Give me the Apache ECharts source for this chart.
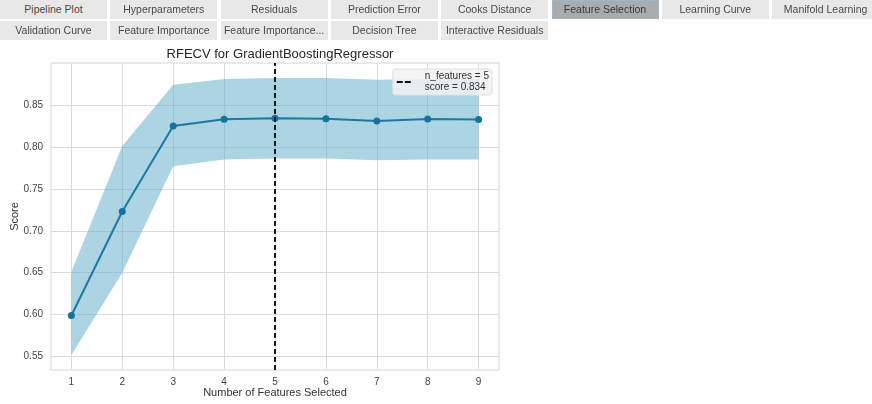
<!DOCTYPE html>
<html>
<head>
<meta charset="utf-8">
<script src="https://cdn.jsdelivr.net/npm/echarts@6/dist/echarts.min.js"></script>
<style>
  html, body { margin: 0; padding: 0; background: #fff; }
  body { width: 872px; height: 404px; position: relative; overflow: hidden;
         font-family: "Liberation Sans", Arial, sans-serif; }
  .tab { position: absolute; height: 19px; line-height: 19px; width: 107px;
         background: #e8e8e8; color: #4a4a4a; font-size: 10.5px; text-align: center;
         white-space: nowrap; overflow: hidden; box-sizing: border-box; }
  .tab.active { background: #a9abad; color: #3a3a3a; border: 1px solid #9cb6cc; line-height: 17px; }
  #chart { position: absolute; left: 0; top: 0; width: 872px; height: 404px; }
</style>
</head>
<body>
<div id="chart"></div>
<script>
// Tabs across the top of the report
const tabRows = [
  ["Pipeline Plot", "Hyperparameters", "Residuals", "Prediction Error", "Cooks Distance",
   "Feature Selection", "Learning Curve", "Manifold Learning"],
  ["Validation Curve", "Feature Importance", "Feature Importance...", "Decision Tree",
   "Interactive Residuals"]
];
const activeTab = "Feature Selection";

// Cross-validated score for each number of selected features
const nFeatures = [1, 2, 3, 4, 5, 6, 7, 8, 9];
const meanScore = [0.599, 0.723, 0.825, 0.833, 0.834, 0.8335, 0.831, 0.8333, 0.8325];
const upperScore = [0.651, 0.801, 0.874, 0.881, 0.882, 0.882, 0.880, 0.881, 0.881];
const lowerScore = [0.552, 0.650, 0.777, 0.785, 0.786, 0.786, 0.784, 0.785, 0.785];

// Axis ticks
const xTicks = [1, 2, 3, 4, 5, 6, 7, 8, 9];
const yTicks = [0.55, 0.60, 0.65, 0.70, 0.75, 0.80, 0.85];

tabRows.forEach((row, r) => {
  row.forEach((name, i) => {
    const d = document.createElement('div');
    d.className = 'tab' + (name === activeTab ? ' active' : '');
    d.textContent = name;
    d.style.left = (i * 110.3) + 'px';
    d.style.top = (r * 21) + 'px';
    document.body.appendChild(d);
  });
});

// Best subset: highest mean score
let best = 0;
meanScore.forEach((v, i) => { if (v > meanScore[best]) best = i; });
const bestN = nFeatures[best];
const bestScore = meanScore[best];

const FONT = '"Liberation Sans", Arial, sans-serif';
const chart = echarts.init(document.getElementById('chart'));

chart.setOption({
  animation: false,
  title: {
    text: 'RFECV for GradientBoostingRegressor',
    left: 275, top: 43, textAlign: 'center',
    textStyle: { fontFamily: FONT, fontSize: 13, fontWeight: 'normal', color: '#262626' }
  },
  grid: { left: 51, top: 63, width: 448, height: 307, show: true,
          outerBoundsMode: 'none', containLabel: false,
          borderColor: '#d4d4d4', borderWidth: 1, backgroundColor: '#fff' },
  legend: {
    data: ['best'],
    right: 380, top: 69,
    orient: 'vertical',
    backgroundColor: 'rgba(242,242,242,0.85)',
    borderColor: '#e0e0e0', borderWidth: 1, borderRadius: 3,
    padding: [2, 3, 2, 4],
    itemWidth: 14, itemHeight: 2,
    icon: 'path://M0 0H6V2H0Z M8 0H14V2H8Z',
    itemStyle: { color: '#111', opacity: 1, borderWidth: 0 },
    formatter: () => 'n_features = ' + bestN + '\nscore = ' + bestScore.toFixed(3),
    textStyle: { fontFamily: FONT, fontSize: 10, color: '#333', lineHeight: 11,
                 padding: [0, 0, 0, 9] }
  },
  xAxis: {
    type: 'value', min: 0.6, max: 9.4,
    name: 'Number of Features Selected', nameLocation: 'middle', nameGap: 17,
    nameMoveOverlap: false,
    nameTextStyle: { fontFamily: FONT, fontSize: 11, color: '#333' },
    axisLine: { show: false }, axisTick: { show: false }, splitLine: { show: false },
    axisLabel: { customValues: xTicks, margin: 7, fontFamily: FONT, fontSize: 10, color: '#444' }
  },
  yAxis: {
    type: 'value', min: 0.534, max: 0.9,
    name: 'Score', nameLocation: 'middle', nameGap: 31,
    nameMoveOverlap: false,
    nameTextStyle: { fontFamily: FONT, fontSize: 11, color: '#333' },
    axisLine: { show: false }, axisTick: { show: false }, splitLine: { show: false },
    axisLabel: { customValues: yTicks, margin: 8, fontFamily: FONT, fontSize: 10, color: '#444',
                 formatter: v => v.toFixed(2) }
  },
  series: [
    {
      // grid lines at the tick positions
      name: 'grid', type: 'line', data: [], z: 1, silent: true,
      markLine: {
        z: 1, silent: true, symbol: 'none', label: { show: false },
        lineStyle: { color: '#dcdcdc', type: 'solid', width: 1 },
        data: yTicks.map(v => ({ yAxis: v })).concat(xTicks.map(v => ({ xAxis: v })))
      }
    },
    {
      // one-standard-deviation band
      name: 'band', type: 'custom', z: 2, silent: true,
      data: [[nFeatures[0], meanScore[0]]],
      renderItem: (params, api) => {
        const pts = [];
        nFeatures.forEach((x, i) => pts.push(api.coord([x, upperScore[i]])));
        for (let i = nFeatures.length - 1; i >= 0; i--) pts.push(api.coord([nFeatures[i], lowerScore[i]]));
        return { type: 'polygon', shape: { points: pts },
                 style: { fill: 'rgba(104,177,202,0.55)' } };
      }
    },
    {
      name: 'score', type: 'line', z: 3,
      data: nFeatures.map((x, i) => [x, meanScore[i]]),
      symbol: 'circle', symbolSize: 7,
      lineStyle: { color: '#1b79a3', width: 2 },
      itemStyle: { color: '#1573a0' }
    },
    {
      name: 'best', type: 'line', data: [], z: 5,
      color: '#111',
      itemStyle: { color: '#111' },
      markLine: {
        z: 10, silent: true, symbol: 'none', label: { show: false },
        lineStyle: { color: '#1a1a1a', type: [5, 3], width: 2 },
        data: [{ xAxis: bestN }]
      }
    }
  ]
});
</script>
</body>
</html>
